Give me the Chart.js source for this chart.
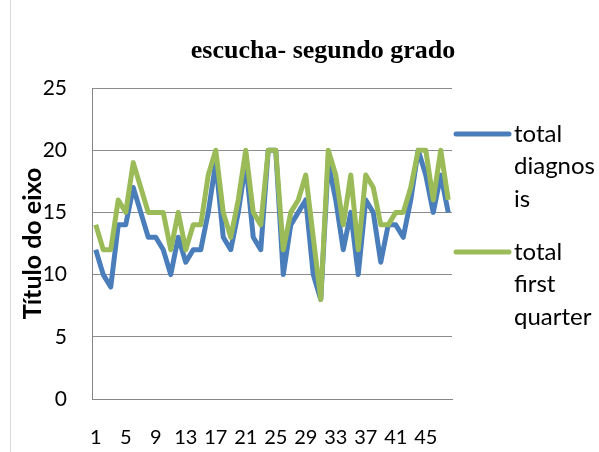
<!DOCTYPE html>
<html>
<head>
<meta charset="utf-8">
<script src="https://cdn.jsdelivr.net/npm/chart.js@4.4.1/dist/chart.umd.min.js"></script>
<style>
  body { margin: 0; background: #fff; }
  canvas { display: block; }
</style>
</head>
<body>
<canvas id="chart" width="599" height="452"></canvas>
<script>
// data
const categories = ['1','2','3','4','5','6','7','8','9','10','11','12','13','14','15','16',
  '17','18','19','20','21','22','23','24','25','26','27','28','29','30','31','32',
  '33','34','35','36','37','38','39','40','41','42','43','44','45','46','47','48'];
const totalDiagnosis = [12,10,9,14,14,17,15,13,13,12,10,13,11,12,12,15,19,13,12,15,19,13,12,20,
  20,10,14,15,16,10,8,19,16,12,15,10,16,15,11,14,14,13,16,20,18,15,18,15];
const totalFirstQuarter = [14,12,12,16,15,19,17,15,15,15,12,15,12,14,14,18,20,15,13,16,20,15,14,20,
  20,12,15,16,18,13,8,20,18,14,18,12,18,17,14,14,15,15,17,20,20,16,20,16];
const seriesNames = ['total diagnosis', 'total first quarter'];
const legendLines = [['total', 'diagnos', 'is'], ['total', 'first', 'quarter']];
const yMax = 25;
const yStep = 5;
const chartTitle = 'escucha- segundo grado';
const yAxisTitle = 'Título do eixo';

const blue = '#4a7ebb';
const green = '#9bbb59';

// title, left frame line and the wrapped legend on the right
const extras = {
  id: 'extras',
  beforeDraw(chart) {
    const ctx = chart.ctx;
    ctx.save();
    ctx.strokeStyle = '#d9d9d9';
    ctx.lineWidth = 1;
    ctx.beginPath();
    ctx.moveTo(10.5, 0);
    ctx.lineTo(10.5, chart.height);
    ctx.stroke();
    ctx.restore();
  },
  afterDraw(chart) {
    const ctx = chart.ctx;
    ctx.save();
    ctx.fillStyle = '#000';
    ctx.font = 'bold 26px "Liberation Serif"';
    ctx.textAlign = 'center';
    ctx.textBaseline = 'alphabetic';
    ctx.fillText(chartTitle, 323, 58);

    const tops = [134, 252];
    chart.data.datasets.forEach((ds, i) => {
      const y = tops[i];
      ctx.strokeStyle = ds.borderColor;
      ctx.lineWidth = 5;
      ctx.lineCap = 'round';
      ctx.beginPath();
      ctx.moveTo(456, y);
      ctx.lineTo(509, y);
      ctx.stroke();
      ctx.fillStyle = '#000';
      ctx.font = '24px Lato';
      ctx.textAlign = 'left';
      ctx.textBaseline = 'middle';
      legendLines[i].forEach((t, k) => ctx.fillText(t, 514, y + k * 32.5));
    });
    ctx.restore();
  }
};

new Chart(document.getElementById('chart'), {
  type: 'line',
  data: {
    labels: categories,
    datasets: [{
      label: seriesNames[0],
      data: totalDiagnosis,
      borderColor: blue,
      backgroundColor: blue,
      borderWidth: 5,
      pointRadius: 0,
      tension: 0,
      borderJoinStyle: 'round',
      order: 1
    }, {
      label: seriesNames[1],
      data: totalFirstQuarter,
      borderColor: green,
      backgroundColor: green,
      borderWidth: 5,
      pointRadius: 0,
      tension: 0,
      borderJoinStyle: 'round',
      order: 0
    }]
  },
  options: {
    responsive: false,
    animation: false,
    layout: { padding: { top: 88, right: 147, bottom: 0, left: 0 } },
    plugins: {
      legend: { display: false },
      title: { display: false },
      tooltip: { enabled: false }
    },
    scales: {
      x: {
        offset: true,
        afterFit(scale) { scale.height = 53; },
        grid: { display: false, drawTicks: false },
        border: { display: true, color: '#868686', width: 1 },
        ticks: {
          autoSkip: false,
          maxRotation: 0,
          padding: 27,
          color: '#000',
          font: { family: 'Lato', size: 20 },
          callback(val, i) { return i % 4 === 0 ? this.getLabelForValue(val) : ''; }
        }
      },
      y: {
        min: 0,
        max: yMax,
        afterFit(scale) { scale.width = 92; },
        grid: { color: '#8c8c8c', lineWidth: 1, drawTicks: false },
        border: { display: true, color: '#868686', width: 1 },
        ticks: {
          stepSize: yStep,
          padding: 25,
          color: '#000',
          font: { family: 'Lato', size: 21 }
        },
        title: {
          display: true,
          text: yAxisTitle,
          color: '#000',
          font: { family: 'Lato', size: 25, weight: 'bold' },
          padding: { top: 18, bottom: 0 }
        }
      }
    }
  },
  plugins: [extras]
});
</script>
</body>
</html>
